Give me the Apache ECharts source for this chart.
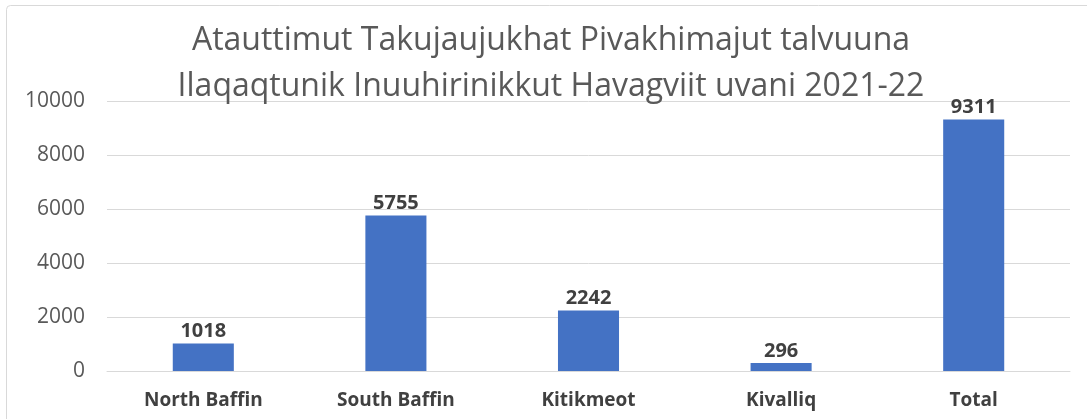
<!DOCTYPE html>
<html><head><meta charset="utf-8">
<script src="https://cdn.jsdelivr.net/npm/echarts@6/dist/echarts.min.js"></script>
<style>html,body{margin:0;padding:0;background:#fff}#c{width:1087px;height:419px}</style>
</head><body><div id="c"></div>
<script>
const titleLines = ['Atauttimut Takujaujukhat Pivakhimajut talvuuna', 'Ilaqaqtunik Inuuhirinikkut Havagviit uvani 2021-22'];
const categories = ['North Baffin', 'South Baffin', 'Kitikmeot', 'Kivalliq', 'Total'];
const values = [1018, 5755, 2242, 296, 9311];
const yMin = 0, yMax = 10000, yInterval = 2000;

const chart = echarts.init(document.getElementById('c'));
const font = '"Open Sans", sans-serif';
chart.setOption({
  animation: false,
  backgroundColor: '#fff',
  title: {
    text: titleLines.join('\n'),
    left: 546, top: 13, textAlign: 'center',
    textStyle: { fontFamily: font, fontSize: 32, fontWeight: 'normal', color: '#595959', lineHeight: 46 }
  },
  graphic: [{
    type: 'rect', shape: { x: 6.5, y: 5.5, width: 1200, height: 600, r: 4 },
    style: { fill: 'none', stroke: '#d9d9d9', lineWidth: 1 }, z: 100
  }],
  grid: { left: 107, right: 17, top: 101, bottom: 48 },
  xAxis: {
    type: 'category', data: categories,
    axisLine: { lineStyle: { color: '#d9d9d9', width: 1 } },
    axisTick: { show: false },
    axisLabel: { fontFamily: font, fontSize: 19, fontWeight: 'bold', color: '#404040', margin: 20 }
  },
  yAxis: {
    type: 'value', min: yMin, max: yMax, interval: yInterval,
    axisLine: { show: false }, axisTick: { show: false },
    splitLine: { lineStyle: { color: '#d9d9d9', width: 1 } },
    axisLabel: { fontFamily: font, fontSize: 21, color: '#595959', margin: 22, formatter: v => String(v) }
  },
  series: [{
    type: 'bar', data: values, barWidth: '31.7%',
    itemStyle: { color: '#4472C4' },
    label: { show: true, position: 'top', distance: 2, fontFamily: font, fontSize: 20, fontWeight: 'bold', color: '#404040' }
  }]
});
</script></body></html>
